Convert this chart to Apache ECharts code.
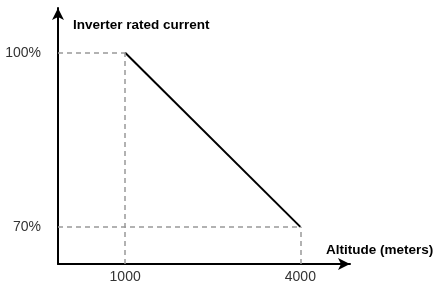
<!DOCTYPE html>
<html>
<head>
<meta charset="utf-8">
<script src="https://cdn.jsdelivr.net/npm/echarts@6/dist/echarts.min.js"></script>
<style>
  html, body { margin: 0; padding: 0; background: #fff; }
  #main { width: 434px; height: 284px; }
</style>
</head>
<body>
<div id="main"></div>
<script>
var altitude = [1000, 4000];
var current = [100, 70];
var xTicks = [1000, 4000];
var yTicks = [70, 100];

var xMin = -150, xMax = 4850;
var yMin = 63.6, yMax = 107.7;

var myChart = echarts.init(document.getElementById('main'));

// dashed guides from both axes to each corner point
var guides = [];
for (var i = 0; i < altitude.length; i++) {
    guides.push([{ coord: [xMin, current[i]] }, { coord: [altitude[i], current[i]] }]);
    guides.push([{ coord: [altitude[i], yMin] }, { coord: [altitude[i], current[i]] }]);
}

var option = {
    animation: false,
    textStyle: { fontFamily: 'Liberation Sans, Arial, sans-serif' },
    title: [{
        text: 'Inverter rated current',
        left: 68, top: 13,
        textStyle: { fontSize: 13.5, fontWeight: 'bold', color: '#000' }
    }, {
        text: 'Altitude (meters)',
        left: 321, top: 238,
        textStyle: { fontSize: 13.5, fontWeight: 'bold', color: '#000' }
    }],
    grid: { left: 58, right: 84, top: 8, bottom: 19 },
    xAxis: {
        type: 'value',
        min: xMin, max: xMax,
        splitLine: { show: false },
        axisTick: { show: false },
        axisLine: { onZero: false, lineStyle: { color: '#000', width: 2 }, symbol: ['none', 'arrow'], symbolSize: [9, 12] },
        axisLabel: { customValues: xTicks, color: '#333', fontSize: 14, margin: 6, formatter: function(v) { return String(v); } }
    },
    yAxis: {
        type: 'value',
        min: yMin, max: yMax,
        splitLine: { show: false },
        axisTick: { show: false },
        axisLine: { show: true, onZero: false, lineStyle: { color: '#000', width: 2 }, symbol: ['none', 'arrow'], symbolSize: [9, 12] },
        axisLabel: { customValues: yTicks, color: '#333', fontSize: 14, margin: 17, formatter: function(v) { return v + '%'; } }
    },
    series: [{
        type: 'line',
        data: altitude.map(function(a, i) { return [a, current[i]]; }),
        showSymbol: false,
        lineStyle: { color: '#000', width: 2 },
        markLine: {
            silent: true,
            symbol: 'none',
            label: { show: false },
            lineStyle: { color: '#999', type: [5, 4], width: 1.5 },
            data: guides
        }
    }]
};

myChart.setOption(option);
</script>
</body>
</html>
